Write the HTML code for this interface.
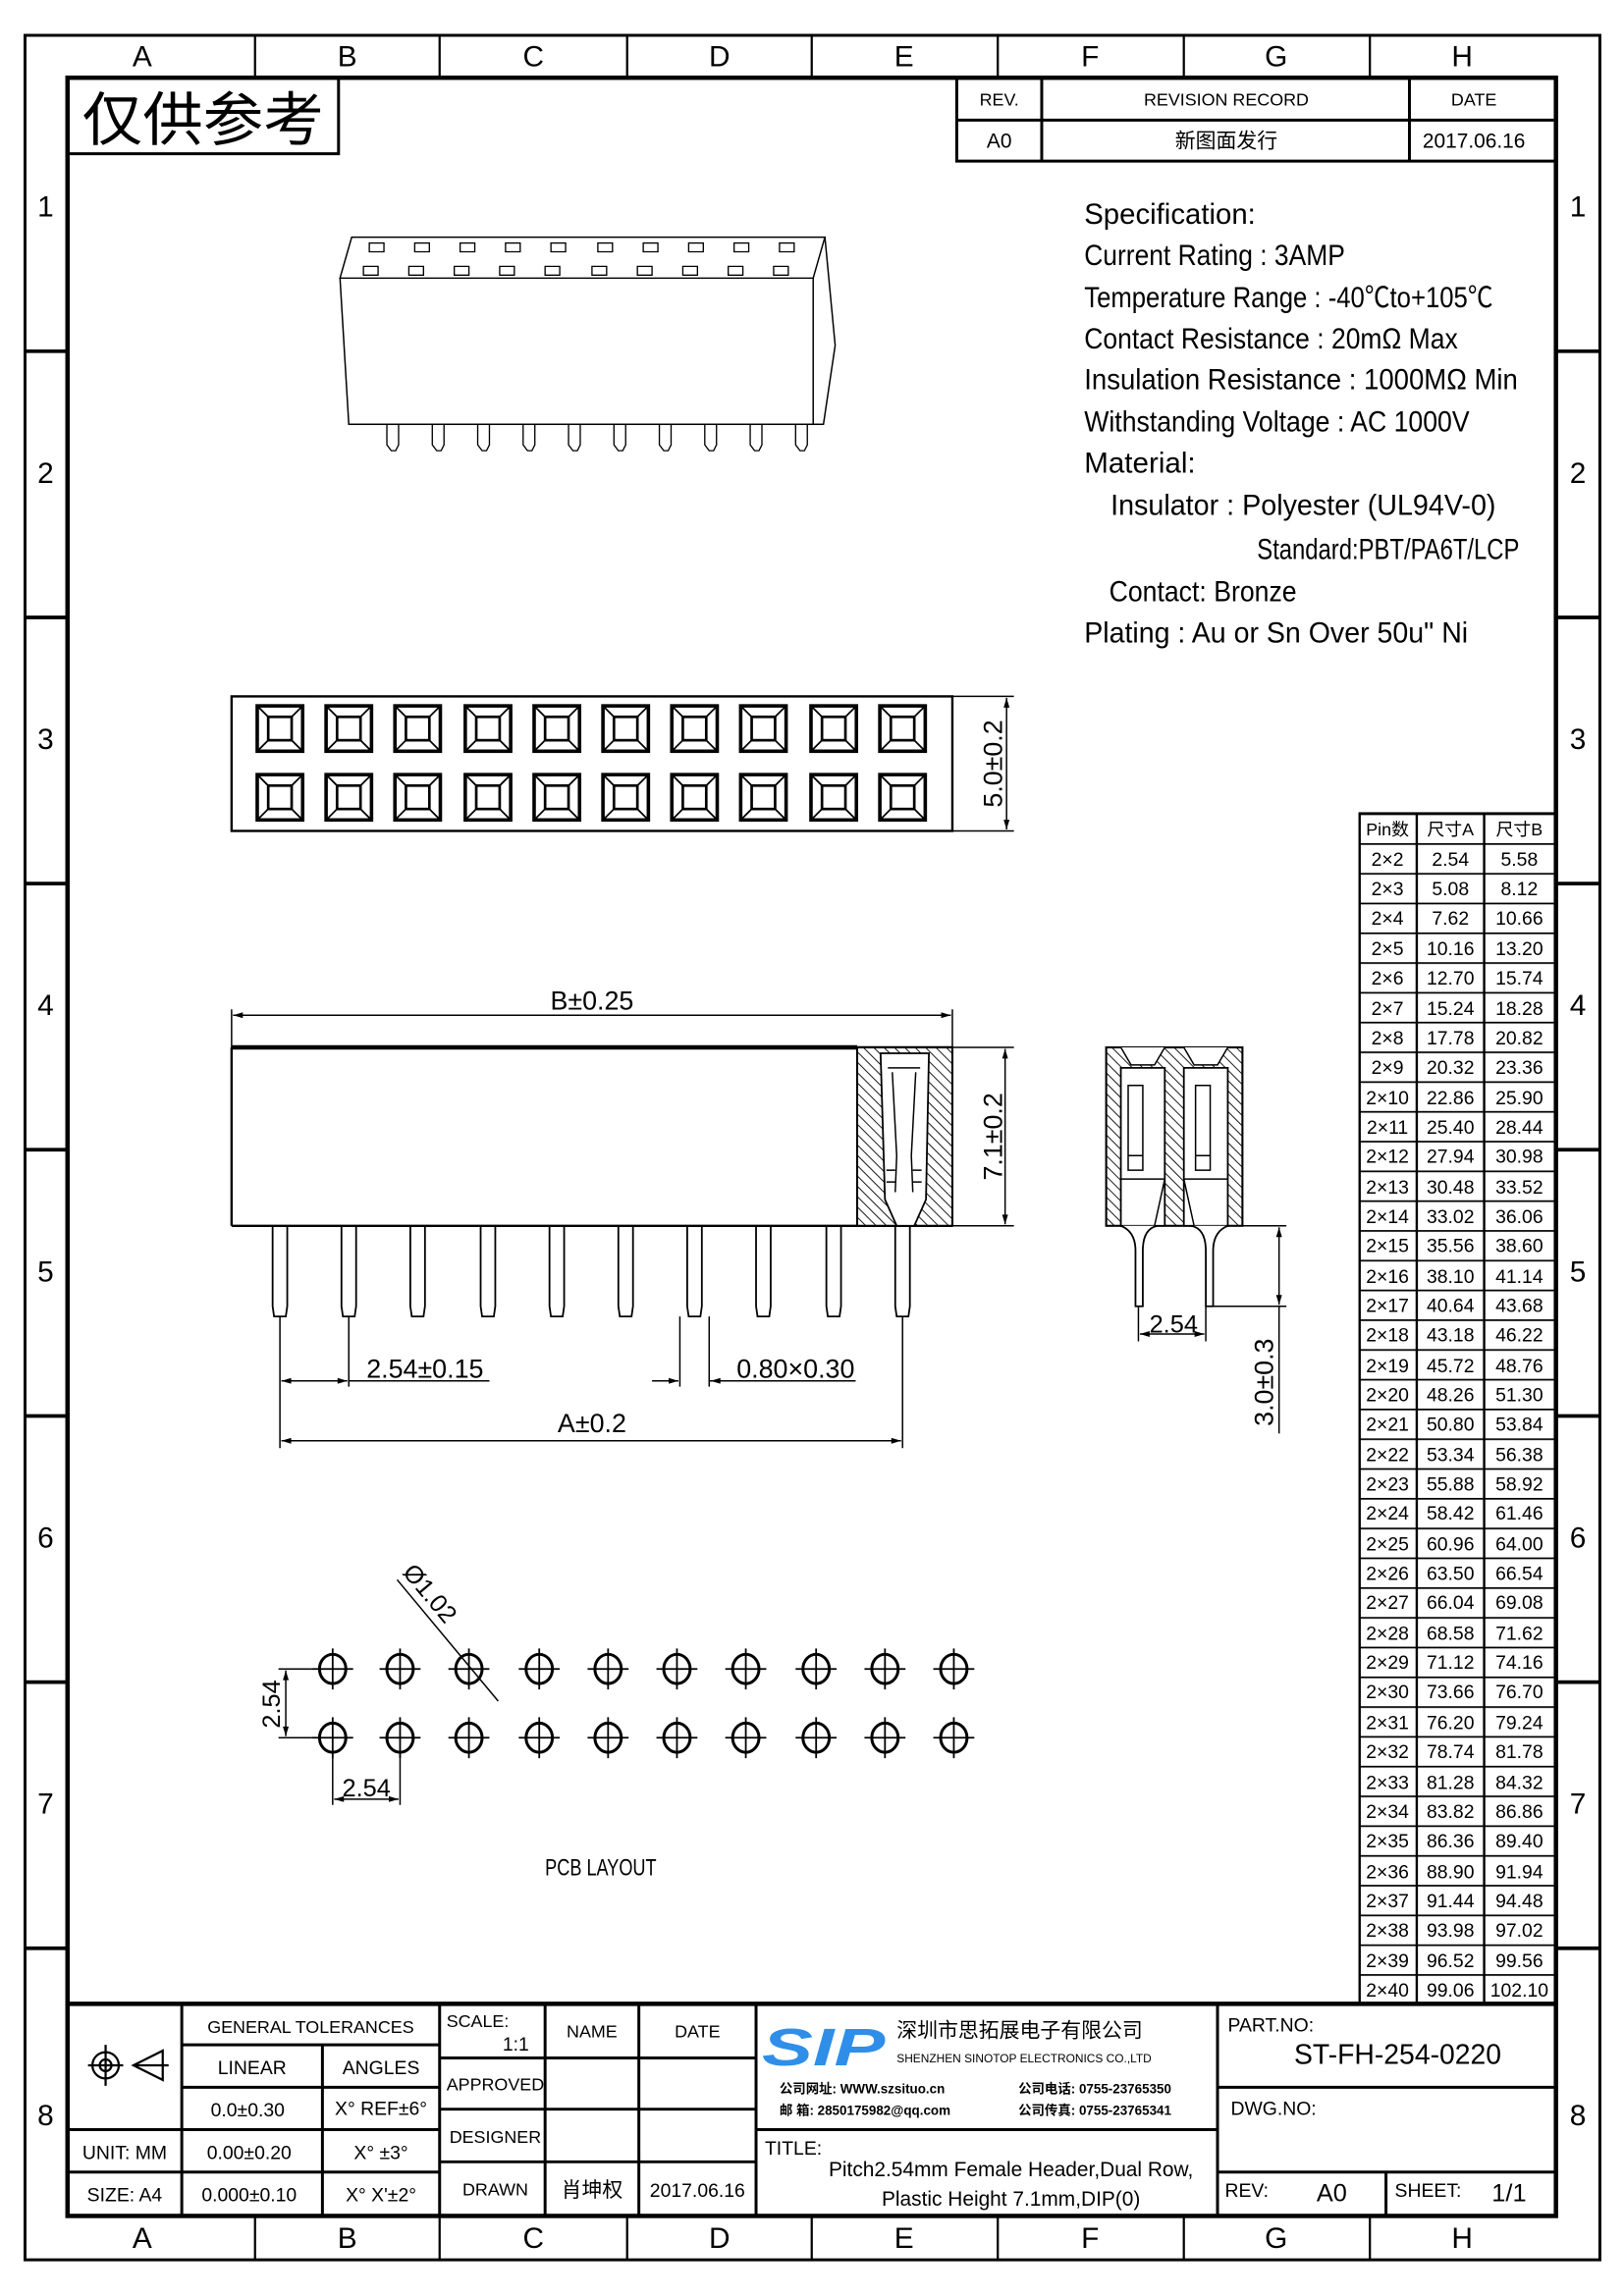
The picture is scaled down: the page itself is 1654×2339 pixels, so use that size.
<!DOCTYPE html>
<html><head><meta charset="utf-8"><style>
html,body{margin:0;padding:0;background:#fff}
svg{display:block}
text{font-family:"Liberation Sans","Noto Sans CJK SC",sans-serif;fill:#000}
</style></head><body>
<svg width="1654" height="2339" viewBox="0 0 1103 1560" preserveAspectRatio="none" xmlns="http://www.w3.org/2000/svg">
<defs>
<pattern id="hat" patternUnits="userSpaceOnUse" width="5" height="5" patternTransform="rotate(-45)">
<rect width="5" height="5" fill="#fff"/><line x1="0" y1="0" x2="0" y2="5" stroke="#000" stroke-width="1.2"/></pattern>
<pattern id="rows" patternUnits="userSpaceOnUse" x="0" y="556" width="200" height="20.35">
<line x1="0" y1="0.5" x2="200" y2="0.5" stroke="#000" stroke-width="1.4"/></pattern>
<g id="sq"><rect x="-15.5" y="-15.5" width="31" height="31" fill="none" stroke="#000" stroke-width="2.4"/><rect x="-8" y="-8" width="16" height="16" fill="none" stroke="#000" stroke-width="1.8"/><path d="M-15 -15L-8 -8M15 -15L8 -8M-15 15L-8 8M15 15L8 8" stroke="#000" stroke-width="1.2"/></g>
<g id="hole"><ellipse cx="0" cy="0" rx="9" ry="10" fill="none" stroke="#000" stroke-width="2"/><path d="M-14 0H14M0 -14V14" stroke="#000" stroke-width="1.2"/></g>
<g id="pin"><path d="M-5 0V55L-4 62H4L5 55V0" fill="none" stroke="#000" stroke-width="1.2"/></g>
<marker id="ar" viewBox="0 0 10 6" refX="10" refY="3" markerWidth="8" markerHeight="4" orient="auto-start-reverse"><path d="M0 0L10 3L0 6z" fill="#000"/></marker>
</defs>
<g transform="translate(0.085 0.15) scale(0.995 0.9937)">

<!-- frame -->
<rect x="17" y="24" width="1075" height="1521" fill="none" stroke="#000" stroke-width="2"/>
<rect x="46" y="53" width="1016" height="1462" fill="none" stroke="#000" stroke-width="3"/>
<g stroke="#000" stroke-width="1.5">
<path d="M174 24V53M300 24V53M428 24V53M554 24V53M681 24V53M808 24V53M935 24V53"/>
<path d="M174 1515V1545M300 1515V1545M428 1515V1545M554 1515V1545M681 1515V1545M808 1515V1545M935 1515V1545"/>
<path d="M17 240H46M17 422H46M17 604H46M17 786H46M17 968H46M17 1150H46M17 1332H46" stroke-width="2.5"/>
<path d="M1062 240H1092M1062 422H1092M1062 604H1092M1062 786H1092M1062 968H1092M1062 1150H1092M1062 1332H1092" stroke-width="2.5"/>
</g>
<g font-size="20" text-anchor="middle">
<text x="97" y="45">A</text><text x="237" y="45">B</text><text x="364" y="45">C</text><text x="491" y="45">D</text><text x="617" y="45">E</text><text x="744" y="45">F</text><text x="871" y="45">G</text><text x="998" y="45">H</text>
<text x="97" y="1537">A</text><text x="237" y="1537">B</text><text x="364" y="1537">C</text><text x="491" y="1537">D</text><text x="617" y="1537">E</text><text x="744" y="1537">F</text><text x="871" y="1537">G</text><text x="998" y="1537">H</text>
<text x="31" y="148">1</text><text x="31" y="330">2</text><text x="31" y="512">3</text><text x="31" y="694">4</text><text x="31" y="876">5</text><text x="31" y="1058">6</text><text x="31" y="1240">7</text><text x="31" y="1453">8</text>
<text x="1077" y="148">1</text><text x="1077" y="330">2</text><text x="1077" y="512">3</text><text x="1077" y="694">4</text><text x="1077" y="876">5</text><text x="1077" y="1058">6</text><text x="1077" y="1240">7</text><text x="1077" y="1453">8</text>
</g>

<!-- 仅供参考 -->
<path d="M231 53V105H46" fill="none" stroke="#000" stroke-width="2"/>
<text x="56" y="96" font-size="40" textLength="165" lengthAdjust="spacingAndGlyphs">仅供参考</text>

<!-- revision -->
<g fill="none" stroke="#000" stroke-width="2">
<path d="M653 53V110H1062M653 82H1062M711 53V110M962 53V110"/></g>
<g font-size="12" text-anchor="middle">
<text x="682" y="72">REV.</text><text x="837" y="72">REVISION RECORD</text><text x="1006" y="72">DATE</text>
<text x="682" y="101" font-size="14">A0</text><text x="837" y="101" font-size="14">新图面发行</text><text x="1006" y="101" font-size="14">2017.06.16</text>
</g>

<!-- spec -->
<g font-size="20">
<text x="740" y="153" textLength="117" lengthAdjust="spacingAndGlyphs">Specification:</text>
<text x="740" y="181" textLength="178" lengthAdjust="spacingAndGlyphs">Current Rating : 3AMP</text>
<text x="740" y="210" textLength="279" lengthAdjust="spacingAndGlyphs">Temperature Range : -40℃to+105℃</text>
<text x="740" y="238" textLength="255" lengthAdjust="spacingAndGlyphs">Contact Resistance : 20mΩ Max</text>
<text x="740" y="266" textLength="296" lengthAdjust="spacingAndGlyphs">Insulation Resistance : 1000MΩ Min</text>
<text x="740" y="295" textLength="263" lengthAdjust="spacingAndGlyphs">Withstanding Voltage : AC 1000V</text>
<text x="740" y="323" textLength="76" lengthAdjust="spacingAndGlyphs">Material:</text>
<text x="758" y="352" textLength="263" lengthAdjust="spacingAndGlyphs">Insulator : Polyester (UL94V-0)</text>
<text x="858" y="382" textLength="179" lengthAdjust="spacingAndGlyphs">Standard:PBT/PA6T/LCP</text>
<text x="757" y="411" textLength="128" lengthAdjust="spacingAndGlyphs">Contact: Bronze</text>
<text x="740" y="439" textLength="262" lengthAdjust="spacingAndGlyphs">Plating : Au or Sn Over 50u" Ni</text>
</g>

<!-- 3D view -->
<g fill="none" stroke="#000" stroke-width="1">
<path d="M240 162H563L555 190H232Z"/>
<path d="M232 190L238 290H555V190"/>
<path d="M563 162L570 236L562 290H555"/>
<g stroke-width="0.9">
<path d="M252 166h10v6h-10zM283 166h10v6h-10zM314 166h10v6h-10zM345 166h10v6h-10zM376 166h10v6h-10zM408 166h10v6h-10zM439 166h10v6h-10zM470 166h10v6h-10zM501 166h10v6h-10zM532 166h10v6h-10z"/>
<path d="M248 182h10v6h-10zM279 182h10v6h-10zM310 182h10v6h-10zM341 182h10v6h-10zM372 182h10v6h-10zM404 182h10v6h-10zM435 182h10v6h-10zM466 182h10v6h-10zM497 182h10v6h-10zM528 182h10v6h-10z"/>
<path d="M264 290v14l3 4h3l2-4v-14M295 290v14l3 4h3l2-4v-14M326 290v14l3 4h3l2-4v-14M357 290v14l3 4h3l2-4v-14M388 290v14l3 4h3l2-4v-14M419 290v14l3 4h3l2-4v-14M450 290v14l3 4h3l2-4v-14M481 290v14l3 4h3l2-4v-14M512 290v14l3 4h3l2-4v-14M543 290v14l3 4h3l2-4v-14"/>
</g></g>

<!-- top view -->
<rect x="158" y="476" width="492" height="92" fill="none" stroke="#000" stroke-width="1.6"/>
<g>
<use href="#sq" x="191" y="498"/><use href="#sq" x="238" y="498"/><use href="#sq" x="285" y="498"/><use href="#sq" x="333" y="498"/><use href="#sq" x="380" y="498"/><use href="#sq" x="427" y="498"/><use href="#sq" x="474" y="498"/><use href="#sq" x="521" y="498"/><use href="#sq" x="569" y="498"/><use href="#sq" x="616" y="498"/>
<use href="#sq" x="191" y="545"/><use href="#sq" x="238" y="545"/><use href="#sq" x="285" y="545"/><use href="#sq" x="333" y="545"/><use href="#sq" x="380" y="545"/><use href="#sq" x="427" y="545"/><use href="#sq" x="474" y="545"/><use href="#sq" x="521" y="545"/><use href="#sq" x="569" y="545"/><use href="#sq" x="616" y="545"/>
</g>
<path d="M650 476H692M650 568H692" stroke="#000" stroke-width="1"/>
<line x1="687" y1="477" x2="687" y2="567" stroke="#000" stroke-width="1" marker-start="url(#ar)" marker-end="url(#ar)"/>
<text transform="translate(684 522) rotate(-90)" font-size="18" text-anchor="middle">5.0±0.2</text>

<!-- front view -->
<path d="M158 716H650M158 838H650M158 716V838" fill="none" stroke="#000" stroke-width="1.6"/>
<path d="M158 716H585" stroke="#000" stroke-width="3"/>
<rect x="585" y="716" width="65" height="122" fill="url(#hat)" stroke="#000" stroke-width="1.4"/>
<path d="M601 720H634L632 820L624 838H612L604 820Z" fill="#fff" stroke="#000" stroke-width="1.2"/>
<path d="M606 730H628M609 733L612 790L611 815M625 733L622 790L623 815M605 800h6M623 800h6M605 808h6M623 808h6" fill="none" stroke="#000" stroke-width="1"/>
<path d="M158 690V716M650 690V716" stroke="#000" stroke-width="1"/>
<line x1="159" y1="694" x2="649" y2="694" stroke="#000" stroke-width="1" marker-start="url(#ar)" marker-end="url(#ar)"/>
<text x="404" y="690" font-size="18" text-anchor="middle">B±0.25</text>
<path d="M650 716H692M650 838H692" stroke="#000" stroke-width="1"/>
<line x1="686" y1="717" x2="686" y2="837" stroke="#000" stroke-width="1" marker-start="url(#ar)" marker-end="url(#ar)"/>
<text transform="translate(684 777) rotate(-90)" font-size="18" text-anchor="middle">7.1±0.2</text>
<g>
<use href="#pin" x="191" y="838"/><use href="#pin" x="238" y="838"/><use href="#pin" x="285" y="838"/><use href="#pin" x="333" y="838"/><use href="#pin" x="380" y="838"/><use href="#pin" x="427" y="838"/><use href="#pin" x="474" y="838"/><use href="#pin" x="521" y="838"/><use href="#pin" x="569" y="838"/><use href="#pin" x="616" y="838"/>
</g>
<g stroke="#000" stroke-width="1" fill="none">
<path d="M191 900V990M238 900V948M464 900V948M484 900V948M616 900V990"/>
<path d="M238 944H334M484 944H584"/>
</g>
<line x1="192" y1="944" x2="237" y2="944" stroke="#000" stroke-width="1" marker-start="url(#ar)" marker-end="url(#ar)"/>
<line x1="445" y1="944" x2="463" y2="944" stroke="#000" stroke-width="1" marker-end="url(#ar)"/>
<line x1="500" y1="944" x2="485" y2="944" stroke="#000" stroke-width="1" marker-end="url(#ar)"/>
<line x1="192" y1="985" x2="615" y2="985" stroke="#000" stroke-width="1" marker-start="url(#ar)" marker-end="url(#ar)"/>
<text x="290" y="942" font-size="18" text-anchor="middle">2.54±0.15</text>
<text x="543" y="942" font-size="18" text-anchor="middle">0.80×0.30</text>
<text x="404" y="979" font-size="18" text-anchor="middle">A±0.2</text>

<!-- side view -->
<rect x="755" y="716" width="93" height="122" fill="url(#hat)" stroke="#000" stroke-width="1.4"/>
<path d="M765 730H795V838H765Z M808 730H838V838H808Z" fill="#fff" stroke="#000" stroke-width="1.2"/>
<path d="M765 716L772 728H788L795 716M808 716L815 728H831L838 716" fill="#fff" stroke="#000" stroke-width="1"/>
<path d="M770 742V800H780V742Z M826 742V800H816V742Z M765 806H795M808 806H838M770 790h10M816 790h10" fill="none" stroke="#000" stroke-width="1"/>
<path d="M795 806L788 838M808 806L815 838" stroke="#000" stroke-width="1"/>
<path d="M765 838Q775 842 775 855V893H780V855Q780 840 790 838M838 838Q828 842 828 855V893H823V855Q823 840 813 838" fill="#fff" stroke="#000" stroke-width="1.2"/>
<path d="M777 893V917M823 893V917M838 838H878M823 893H878" stroke="#000" stroke-width="1"/>
<line x1="778" y1="912" x2="822" y2="912" stroke="#000" stroke-width="1" marker-start="url(#ar)" marker-end="url(#ar)"/>
<text x="801" y="911" font-size="17" text-anchor="middle">2.54</text>
<line x1="873" y1="839" x2="873" y2="892" stroke="#000" stroke-width="1" marker-start="url(#ar)" marker-end="url(#ar)"/>
<path d="M873 893V980" stroke="#000" stroke-width="1"/>
<text transform="translate(869 945) rotate(-90)" font-size="18" text-anchor="middle">3.0±0.3</text>

<!-- PCB -->
<g>
<use href="#hole" x="227" y="1141"/><use href="#hole" x="273" y="1141"/><use href="#hole" x="320" y="1141"/><use href="#hole" x="368" y="1141"/><use href="#hole" x="415" y="1141"/><use href="#hole" x="462" y="1141"/><use href="#hole" x="509" y="1141"/><use href="#hole" x="557" y="1141"/><use href="#hole" x="604" y="1141"/><use href="#hole" x="651" y="1141"/>
<use href="#hole" x="227" y="1188"/><use href="#hole" x="273" y="1188"/><use href="#hole" x="320" y="1188"/><use href="#hole" x="368" y="1188"/><use href="#hole" x="415" y="1188"/><use href="#hole" x="462" y="1188"/><use href="#hole" x="509" y="1188"/><use href="#hole" x="557" y="1188"/><use href="#hole" x="604" y="1188"/><use href="#hole" x="651" y="1188"/>
</g>
<path d="M190 1141H213M190 1188H213M227 1200V1234M273 1200V1234M271 1080L340 1163" stroke="#000" stroke-width="1" fill="none"/>
<line x1="195" y1="1142" x2="195" y2="1187" stroke="#000" stroke-width="1" marker-start="url(#ar)" marker-end="url(#ar)"/>
<line x1="228" y1="1230" x2="272" y2="1230" stroke="#000" stroke-width="1" marker-start="url(#ar)" marker-end="url(#ar)"/>
<text transform="translate(191 1165) rotate(-90)" font-size="17" text-anchor="middle">2.54</text>
<text x="250" y="1228" font-size="17" text-anchor="middle">2.54</text>
<text transform="translate(289 1093) rotate(50)" font-size="17" text-anchor="middle">Ø1.02</text>
<text x="410" y="1282" font-size="16" text-anchor="middle" textLength="76" lengthAdjust="spacingAndGlyphs">PCB LAYOUT</text>

<!-- pin table -->
<rect x="928" y="556" width="134" height="814" fill="url(#rows)" stroke="#000" stroke-width="1.6"/>
<path d="M967 556V1370M1013 556V1370" stroke="#000" stroke-width="1.6"/>
<g font-size="13" text-anchor="middle">
<text x="947" y="571" font-size="12">Pin数</text><text x="990" y="571" font-size="12">尺寸A</text><text x="1037" y="571" font-size="12">尺寸B</text>
<text x="947" y="592">2×2</text><text x="990" y="592">2.54</text><text x="1037" y="592">5.58</text>
<text x="947" y="612">2×3</text><text x="990" y="612">5.08</text><text x="1037" y="612">8.12</text>
<text x="947" y="632">2×4</text><text x="990" y="632">7.62</text><text x="1037" y="632">10.66</text>
<text x="947" y="653">2×5</text><text x="990" y="653">10.16</text><text x="1037" y="653">13.20</text>
<text x="947" y="673">2×6</text><text x="990" y="673">12.70</text><text x="1037" y="673">15.74</text>
<text x="947" y="694">2×7</text><text x="990" y="694">15.24</text><text x="1037" y="694">18.28</text>
<text x="947" y="714">2×8</text><text x="990" y="714">17.78</text><text x="1037" y="714">20.82</text>
<text x="947" y="734">2×9</text><text x="990" y="734">20.32</text><text x="1037" y="734">23.36</text>
<text x="947" y="755">2×10</text><text x="990" y="755">22.86</text><text x="1037" y="755">25.90</text>
<text x="947" y="775">2×11</text><text x="990" y="775">25.40</text><text x="1037" y="775">28.44</text>
<text x="947" y="795">2×12</text><text x="990" y="795">27.94</text><text x="1037" y="795">30.98</text>
<text x="947" y="816">2×13</text><text x="990" y="816">30.48</text><text x="1037" y="816">33.52</text>
<text x="947" y="836">2×14</text><text x="990" y="836">33.02</text><text x="1037" y="836">36.06</text>
<text x="947" y="856">2×15</text><text x="990" y="856">35.56</text><text x="1037" y="856">38.60</text>
<text x="947" y="877">2×16</text><text x="990" y="877">38.10</text><text x="1037" y="877">41.14</text>
<text x="947" y="897">2×17</text><text x="990" y="897">40.64</text><text x="1037" y="897">43.68</text>
<text x="947" y="917">2×18</text><text x="990" y="917">43.18</text><text x="1037" y="917">46.22</text>
<text x="947" y="938">2×19</text><text x="990" y="938">45.72</text><text x="1037" y="938">48.76</text>
<text x="947" y="958">2×20</text><text x="990" y="958">48.26</text><text x="1037" y="958">51.30</text>
<text x="947" y="978">2×21</text><text x="990" y="978">50.80</text><text x="1037" y="978">53.84</text>
<text x="947" y="999">2×22</text><text x="990" y="999">53.34</text><text x="1037" y="999">56.38</text>
<text x="947" y="1019">2×23</text><text x="990" y="1019">55.88</text><text x="1037" y="1019">58.92</text>
<text x="947" y="1039">2×24</text><text x="990" y="1039">58.42</text><text x="1037" y="1039">61.46</text>
<text x="947" y="1060">2×25</text><text x="990" y="1060">60.96</text><text x="1037" y="1060">64.00</text>
<text x="947" y="1080">2×26</text><text x="990" y="1080">63.50</text><text x="1037" y="1080">66.54</text>
<text x="947" y="1100">2×27</text><text x="990" y="1100">66.04</text><text x="1037" y="1100">69.08</text>
<text x="947" y="1121">2×28</text><text x="990" y="1121">68.58</text><text x="1037" y="1121">71.62</text>
<text x="947" y="1141">2×29</text><text x="990" y="1141">71.12</text><text x="1037" y="1141">74.16</text>
<text x="947" y="1161">2×30</text><text x="990" y="1161">73.66</text><text x="1037" y="1161">76.70</text>
<text x="947" y="1182">2×31</text><text x="990" y="1182">76.20</text><text x="1037" y="1182">79.24</text>
<text x="947" y="1202">2×32</text><text x="990" y="1202">78.74</text><text x="1037" y="1202">81.78</text>
<text x="947" y="1223">2×33</text><text x="990" y="1223">81.28</text><text x="1037" y="1223">84.32</text>
<text x="947" y="1243">2×34</text><text x="990" y="1243">83.82</text><text x="1037" y="1243">86.86</text>
<text x="947" y="1263">2×35</text><text x="990" y="1263">86.36</text><text x="1037" y="1263">89.40</text>
<text x="947" y="1284">2×36</text><text x="990" y="1284">88.90</text><text x="1037" y="1284">91.94</text>
<text x="947" y="1304">2×37</text><text x="990" y="1304">91.44</text><text x="1037" y="1304">94.48</text>
<text x="947" y="1324">2×38</text><text x="990" y="1324">93.98</text><text x="1037" y="1324">97.02</text>
<text x="947" y="1345">2×39</text><text x="990" y="1345">96.52</text><text x="1037" y="1345">99.56</text>
<text x="947" y="1365">2×40</text><text x="990" y="1365">99.06</text><text x="1037" y="1365">102.10</text>
</g>

<!-- title block -->
<g fill="none" stroke="#000" stroke-width="2">
<path d="M46 1370H1062" stroke-width="3"/>
<path d="M124 1370V1515M220 1398V1515M300 1370V1515M372 1370V1515M436 1370V1515M516 1370V1515M831 1370V1515"/>
<path d="M124 1398H300M124 1427H300M46 1456H300M46 1485H300"/>
<path d="M300 1407H516M300 1442H516M300 1478H516"/>
<path d="M516 1456H831M831 1427H1062M831 1485H1062M946 1485V1515"/>
</g>
<g fill="none" stroke="#000" stroke-width="1.5">
<circle cx="72" cy="1412" r="9"/><circle cx="72" cy="1412" r="4"/><path d="M60 1412H84M72 1398V1426M91 1412L111 1402V1422Z M91 1412H115"/>
</g>
<g font-size="13" text-anchor="middle">
<text x="212" y="1390" font-size="12">GENERAL TOLERANCES</text>
<text x="172" y="1418">LINEAR</text><text x="260" y="1418">ANGLES</text>
<text x="169" y="1447">0.0±0.30</text><text x="260" y="1446">X° REF±6°</text>
<text x="85" y="1476">UNIT: MM</text><text x="170" y="1476">0.00±0.20</text><text x="260" y="1476">X° ±3°</text>
<text x="85" y="1505">SIZE: A4</text><text x="170" y="1505">0.000±0.10</text><text x="260" y="1505">X° X'±2°</text>
<text x="326" y="1386" font-size="12">SCALE:</text><text x="352" y="1402">1:1</text>
<text x="404" y="1393" font-size="12">NAME</text><text x="476" y="1393" font-size="12">DATE</text>
<text x="338" y="1429" font-size="12">APPROVED</text><text x="338" y="1465" font-size="12">DESIGNER</text><text x="338" y="1501" font-size="12">DRAWN</text>
<text x="404" y="1502" font-size="14">肖坤权</text><text x="476" y="1502">2017.06.16</text>
</g>
<text x="520" y="1412" font-size="36" font-weight="bold" font-style="italic" style="fill:#2f8fe8" textLength="84" lengthAdjust="spacingAndGlyphs">SIP</text>
<text x="612" y="1393" font-size="14">深圳市思拓展电子有限公司</text>
<text x="612" y="1410" font-size="8">SHENZHEN SINOTOP ELECTRONICS CO.,LTD</text>
<text x="532" y="1431" font-size="9" font-weight="bold">公司网址: WWW.szsituo.cn</text>
<text x="532" y="1446" font-size="9" font-weight="bold">邮    箱: 2850175982@qq.com</text>
<text x="695" y="1431" font-size="9" font-weight="bold">公司电话: 0755-23765350</text>
<text x="695" y="1446" font-size="9" font-weight="bold">公司传真: 0755-23765341</text>
<text x="522" y="1473" font-size="13">TITLE:</text>
<text x="690" y="1488" font-size="14" text-anchor="middle">Pitch2.54mm Female Header,Dual Row,</text>
<text x="690" y="1508" font-size="14" text-anchor="middle">Plastic Height 7.1mm,DIP(0)</text>
<text x="838" y="1389" font-size="13">PART.NO:</text>
<text x="954" y="1411" font-size="19" text-anchor="middle">ST-FH-254-0220</text>
<text x="840" y="1446" font-size="13">DWG.NO:</text>
<text x="836" y="1502" font-size="13">REV:</text><text x="909" y="1505" font-size="17" text-anchor="middle">A0</text>
<text x="952" y="1502" font-size="13">SHEET:</text><text x="1030" y="1505" font-size="17" text-anchor="middle">1/1</text>
</g>
</svg>
</body></html>
